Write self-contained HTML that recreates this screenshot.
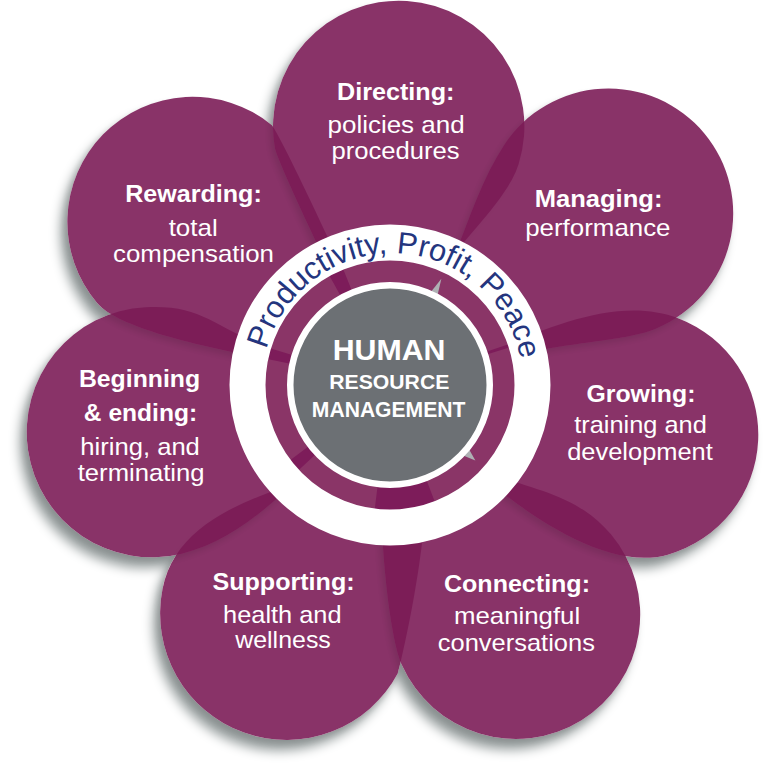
<!DOCTYPE html>
<html><head><meta charset="utf-8"><style>
html,body{margin:0;padding:0;background:#fff;}
svg{display:block;}
text{font-family:"Liberation Sans",sans-serif;}
</style></head><body>
<svg width="768" height="768" viewBox="0 0 768 768">
<rect width="768" height="768" fill="#fff"/>
<defs>
<filter id="sh" x="-30%" y="-30%" width="160%" height="160%" color-interpolation-filters="sRGB">
  <feGaussianBlur in="SourceAlpha" stdDeviation="5.5"/>
  <feOffset dx="-7" dy="11" result="b"/>
  <feComposite in="b" in2="SourceAlpha" operator="out" result="o"/>
  <feColorMatrix in="o" type="matrix" values="0 0 0 0 0.14  0 0 0 0 0.2  0 0 0 0 0.2  0 0 0 0.46 0"/>
</filter>
<filter id="sh2" x="-30%" y="-30%" width="160%" height="160%" color-interpolation-filters="sRGB">
  <feGaussianBlur in="SourceAlpha" stdDeviation="3"/>
  <feOffset dx="-3" dy="4" result="b"/>
  <feComposite in="b" in2="SourceAlpha" operator="out" result="o"/>
  <feColorMatrix in="o" type="matrix" values="0 0 0 0 0  0 0 0 0 0  0 0 0 0 0  0 0 0 0.12 0" result="s"/>
  <feMerge><feMergeNode in="s"/><feMergeNode in="SourceGraphic"/></feMerge>
</filter>
<path id="arc" d="M 262.00,377.79 A 130.50,130.50 0 0 1 522.80,387.81"/>
</defs>
<g filter="url(#sh)"><path d="M390.00,385.00 C467.53,391.53 399.21,670.88 397.89,673.34 A126.40,126.40 0 0 1 162.51,589.03 C189.12,454.74 453.44,496.87 390.00,385.00 Z" fill="#000"/><path d="M390.00,385.00 C460.42,505.83 551.32,463.05 611.19,534.61 A124.50,124.50 0 1 1 401.97,665.14 C384.97,626.98 370.83,455.18 390.00,385.00 Z" fill="#000"/><path d="M390.00,385.00 C326.83,444.60 263.34,533.44 181.90,553.63 A125.10,125.10 0 1 1 145.29,307.27 C225.32,303.10 209.70,346.60 390.00,385.00 Z" fill="#000"/><path d="M390.00,385.00 C462.61,380.37 585.84,282.26 678.73,318.39 A124.80,124.80 0 0 1 668.00,554.64 C562.44,585.00 389.89,388.78 390.00,385.00 Z" fill="#000"/><path d="M390.00,385.00 C348.60,368.95 133.57,346.03 97.07,303.04 A125.20,125.20 0 0 1 271.67,125.01 C278.65,130.71 370.91,322.92 390.00,385.00 Z" fill="#000"/><path d="M390.00,385.00 C355.39,328.21 277.43,162.68 274.87,147.99 A125.70,125.70 0 1 1 518.60,164.13 C500.67,221.11 400.73,281.53 390.00,385.00 Z" fill="#000"/><path d="M390.00,385.00 C455.92,283.40 464.70,204.89 504.32,144.67 A124.70,124.70 0 1 1 656.84,328.15 C616.30,345.20 564.30,335.67 390.00,385.00 Z" fill="#000"/></g>
<g filter="url(#sh2)" opacity="0.890"><path d="M390.00,385.00 C467.53,391.53 399.21,670.88 397.89,673.34 A126.40,126.40 0 0 1 162.51,589.03 C189.12,454.74 453.44,496.87 390.00,385.00 Z" fill="#7b1b56"/></g>
<g filter="url(#sh2)" opacity="0.890"><path d="M390.00,385.00 C460.42,505.83 551.32,463.05 611.19,534.61 A124.50,124.50 0 1 1 401.97,665.14 C384.97,626.98 370.83,455.18 390.00,385.00 Z" fill="#7b1b56"/></g>
<g filter="url(#sh2)" opacity="0.890"><path d="M390.00,385.00 C326.83,444.60 263.34,533.44 181.90,553.63 A125.10,125.10 0 1 1 145.29,307.27 C225.32,303.10 209.70,346.60 390.00,385.00 Z" fill="#7b1b56"/></g>
<g filter="url(#sh2)" opacity="0.890"><path d="M390.00,385.00 C462.61,380.37 585.84,282.26 678.73,318.39 A124.80,124.80 0 0 1 668.00,554.64 C562.44,585.00 389.89,388.78 390.00,385.00 Z" fill="#7b1b56"/></g>
<g filter="url(#sh2)" opacity="0.890"><path d="M390.00,385.00 C348.60,368.95 133.57,346.03 97.07,303.04 A125.20,125.20 0 0 1 271.67,125.01 C278.65,130.71 370.91,322.92 390.00,385.00 Z" fill="#7b1b56"/></g>
<g filter="url(#sh2)" opacity="0.890"><path d="M390.00,385.00 C355.39,328.21 277.43,162.68 274.87,147.99 A125.70,125.70 0 1 1 518.60,164.13 C500.67,221.11 400.73,281.53 390.00,385.00 Z" fill="#7b1b56"/></g>
<g filter="url(#sh2)" opacity="0.890"><path d="M390.00,385.00 C455.92,283.40 464.70,204.89 504.32,144.67 A124.70,124.70 0 1 1 656.84,328.15 C616.30,345.20 564.30,335.67 390.00,385.00 Z" fill="#7b1b56"/></g>
<circle cx="390" cy="385" r="113" fill="none" stroke="#8a3567" stroke-width="28"/>
<path d="M327.94,273.05 A128.0,128.0 0 0 1 342.05,266.32 L353.29,294.14 A98.0,98.0 0 0 0 342.49,299.29 Z" fill="#7d1c5a"/>
<path d="M264.80,358.39 A128.0,128.0 0 0 1 267.59,347.58 L296.28,356.35 A98.0,98.0 0 0 0 294.14,364.62 Z" fill="#7d1c5a"/>
<path d="M296.39,472.30 A128.0,128.0 0 0 1 287.77,462.03 L311.73,443.98 A98.0,98.0 0 0 0 318.33,451.84 Z" fill="#7d1c5a"/>
<path d="M435.87,504.50 A128.0,128.0 0 0 1 374.40,512.05 L378.06,482.27 A98.0,98.0 0 0 0 425.12,476.49 Z" fill="#7d1c5a"/>
<path d="M511.03,343.33 A128.0,128.0 0 0 1 512.08,346.51 L483.46,355.53 A98.0,98.0 0 0 0 482.66,353.09 Z" fill="#7d1c5a"/>
<path d="M430.44,292.45 L441.36,278.76 L437.42,295.82 Z" fill="#aeb0b3"/>
<path d="M468.60,448.42 L475.38,460.54 L462.53,455.29 Z" fill="#aeb0b3"/>
<circle cx="390" cy="385" r="142.5" fill="none" stroke="#fff" stroke-width="36"/>
<circle cx="390" cy="385" r="99.75" fill="#6c7074" stroke="#fff" stroke-width="6.5"/>
<text font-family="&apos;Liberation Sans&apos;, sans-serif" font-size="30.8" fill="#24357e"><textPath href="#arc" startOffset="50%" text-anchor="middle">Productivity, Profit, Peace</textPath></text>
<g font-family="&apos;Liberation Sans&apos;, sans-serif" font-weight="bold" fill="#fff" text-anchor="middle">
<text transform="translate(389.05,360) scale(1.035,1)" font-size="29.3">HUMAN</text>
<text transform="translate(389.3,389) scale(1.02,1)" font-size="20.8">RESOURCE</text>
<text transform="translate(388.6,416.7) scale(1.015,1.04)" font-size="20.8">MANAGEMENT</text>
</g>
<g font-family="&apos;Liberation Sans&apos;, sans-serif" fill="#fff" text-anchor="middle">
<text transform="translate(395.75,100.30) scale(1.0478,1)" font-size="24.0" font-weight="bold">Directing:</text>
<text transform="translate(396.07,132.90) scale(1.0911,1)" font-size="23.8">policies and</text>
<text transform="translate(395.50,158.50) scale(1.0770,1)" font-size="23.8">procedures</text>
<text transform="translate(598.55,206.70) scale(1.0655,1)" font-size="24.0" font-weight="bold">Managing:</text>
<text transform="translate(597.85,236.20) scale(1.0886,1)" font-size="23.8">performance</text>
<text transform="translate(193.45,201.70) scale(1.0457,1)" font-size="24.0" font-weight="bold">Rewarding:</text>
<text transform="translate(193.15,235.60) scale(1.0910,1)" font-size="23.8">total</text>
<text transform="translate(193.50,262.30) scale(1.0863,1)" font-size="23.8">compensation</text>
<text transform="translate(139.50,386.70) scale(1.0334,1)" font-size="24.0" font-weight="bold">Beginning</text>
<text transform="translate(140.50,421.10) scale(1.0244,1)" font-size="24.0" font-weight="bold">&amp; ending:</text>
<text transform="translate(140.10,454.80) scale(1.0759,1)" font-size="23.8">hiring, and</text>
<text transform="translate(141.10,481.30) scale(1.0770,1)" font-size="23.8">terminating</text>
<text transform="translate(640.95,401.50) scale(1.0350,1)" font-size="24.0" font-weight="bold">Growing:</text>
<text transform="translate(640.50,433.00) scale(1.0667,1)" font-size="23.8">training and</text>
<text transform="translate(640.00,459.50) scale(1.0691,1)" font-size="23.8">development</text>
<text transform="translate(517.00,591.50) scale(1.0438,1)" font-size="24.0" font-weight="bold">Connecting:</text>
<text transform="translate(517.10,623.60) scale(1.0843,1)" font-size="23.8">meaningful</text>
<text transform="translate(516.35,650.80) scale(1.0703,1)" font-size="23.8">conversations</text>
<text transform="translate(283.50,590.00) scale(1.0466,1)" font-size="24.0" font-weight="bold">Supporting:</text>
<text transform="translate(282.30,622.90) scale(1.0667,1)" font-size="23.8">health and</text>
<text transform="translate(283.00,648.30) scale(1.0484,1)" font-size="23.8">wellness</text>
</g>
</svg>
</body></html>
